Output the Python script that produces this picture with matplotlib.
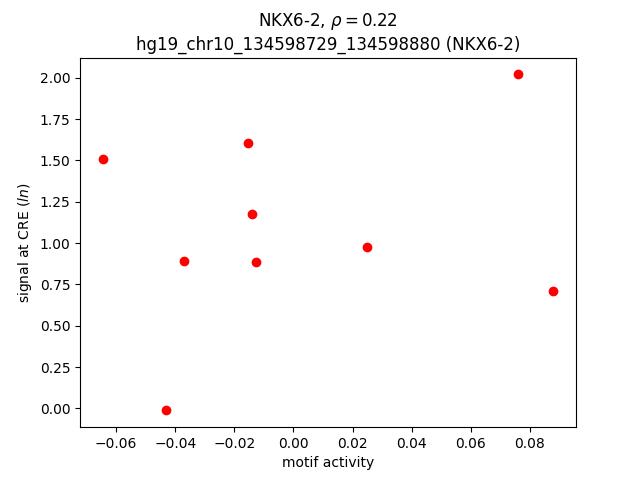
import numpy as np
import matplotlib
matplotlib.use("Agg")
import matplotlib.pyplot as plt

# values
motif_activity = [-0.0646, -0.0154, -0.0141, -0.0371, -0.0127, 0.0249, 0.0761, 0.0880, -0.0432]
signal_cre = [1.506, 1.603, 1.175, 0.890, 0.884, 0.975, 2.020, 0.709, -0.012]

title = "NKX6-2, $\\rho = 0.22$\nhg19_chr10_134598729_134598880 (NKX6-2)"

fig, ax = plt.subplots(figsize=(6.4, 4.8), dpi=100)
ax.scatter(motif_activity, signal_cre, color="red", s=36, zorder=3)
ax.set_title(title)
ax.set_xlabel("motif activity")
ax.set_ylabel("signal at CRE ($ln$)")

fig.savefig("out.png", dpi=100)
